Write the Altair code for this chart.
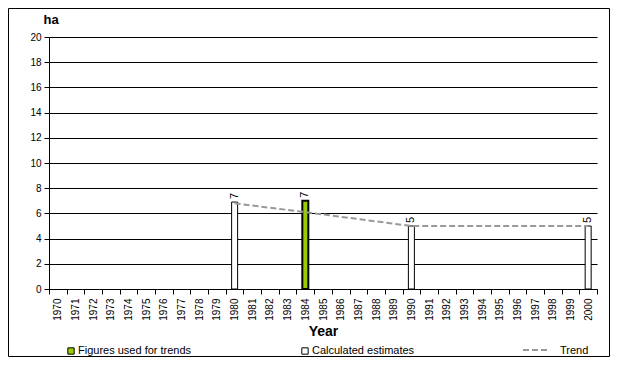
import altair as alt
import pandas as pd

years = [str(y) for y in range(1970, 2001)]
bar_years = ["1980", "1984", "1990", "2000"]
bar_values = [6.9, 7.0, 5.0, 5.0]
bar_kind = ["Calculated estimates", "Figures used for trends", "Calculated estimates", "Calculated estimates"]
bar_labels = ["7", "7", "5", "5"]
trend_years = ["1980", "1984", "1990", "2000"]
trend_values = [6.8, 6.1, 5.0, 5.0]
y_ticks = list(range(0, 21, 2))

W, H = 548, 252
FONT = "Liberation Sans"

bars_df = pd.DataFrame({"year": bar_years, "value": bar_values, "kind": bar_kind, "label": bar_labels})
trend_df = pd.DataFrame({"year": trend_years, "value": trend_values})

xscale = alt.Scale(domain=years, paddingInner=0, paddingOuter=0)
yscale = alt.Scale(domain=[0, 20], nice=False)

x_axis = alt.Axis(title="Year", labelAngle=270, labelAlign="right", labelBaseline="middle",
                  labelFontSize=10, labelFont=FONT, labelColor="black", labelPadding=4,
                  tickBand="extent", tickColor="black", tickSize=5, domainColor="black",
                  titleFont=FONT, titleFontSize=14, titleFontWeight="bold", titleColor="black",
                  titlePadding=4, grid=False)
y_axis = alt.Axis(title="ha", titleAngle=0, titleAlign="left", titleX=-6, titleY=-14,
                  titleBaseline="alphabetic",
                  titleFont=FONT, titleFontSize=13, titleFontWeight="bold", titleColor="black",
                  values=y_ticks, labelFontSize=10, labelFont=FONT, labelOverlap=False,
                  labelColor="black", labelPadding=3,
                  tickColor="black", tickSize=5, domainColor="black",
                  grid=True, gridColor="black", gridOpacity=1, gridWidth=1)

x_enc = alt.X("year:N", scale=xscale, sort=years, axis=x_axis)
y_enc = alt.Y("value:Q", scale=yscale, axis=y_axis)

color_scale = alt.Scale(domain=["Figures used for trends", "Calculated estimates"], range=["#99CC00", "#FFFFFF"])
stroke_scale = alt.Scale(domain=["Figures used for trends", "Calculated estimates"], range=[2, 1])

bars = alt.Chart(bars_df).mark_bar(size=6, stroke="black").encode(
    x=x_enc, y=y_enc, color=alt.Color("kind:N", scale=color_scale, legend=None),
    strokeWidth=alt.StrokeWidth("kind:N", scale=stroke_scale, legend=None))

labels = alt.Chart(bars_df).mark_text(angle=270, align="left", baseline="middle", dx=3,
                                      font=FONT, fontSize=11, color="black").encode(
    x=x_enc, y=y_enc, text="label:N")

trend = alt.Chart(trend_df).mark_line(color="#999999", strokeWidth=2, strokeDash=[6, 3]).encode(
    x=x_enc, y=y_enc)

# manual legend
leg_sq = pd.DataFrame({"kind": ["Figures used for trends", "Calculated estimates"], "px": [22, 256]})
legend_squares = alt.Chart(leg_sq).mark_square(size=40, stroke="black", strokeWidth=1, opacity=1).encode(
    x=alt.X("px:Q", scale=None), y=alt.value(H + 62),
    color=alt.Color("kind:N", scale=color_scale, legend=None))
legend_text = alt.Chart(pd.DataFrame({"t": ["Figures used for trends", "Calculated estimates", "Trend"],
                                      "px": [29, 263, 511]})).mark_text(
    align="left", baseline="middle", font=FONT, fontSize=11, color="black").encode(
    x=alt.X("px:Q", scale=None), y=alt.value(H + 62), text="t:N")
legend_line = alt.Chart(pd.DataFrame({"a": [474], "b": [499]})).mark_rule(
    color="#999999", strokeWidth=2, strokeDash=[6, 3]).encode(
    x=alt.X("a:Q", scale=None), x2="b:Q", y=alt.value(H + 61))

border = alt.Chart(pd.DataFrame({"a": [0]})).mark_rect(
    fill=None, stroke="black", strokeWidth=1, clip=False).encode(
    x=alt.value(-40.5), x2=alt.value(W + 12.5), y=alt.value(-28.5), y2=alt.value(H + 67.5))

chart = alt.layer(border, bars, trend, labels, legend_squares, legend_line, legend_text).properties(
    width=W, height=H,
    padding={"left": 41, "top": 29, "right": 13, "bottom": 68},
    autosize=alt.AutoSizeParams(type="none"),
    background="white",
).configure_view(stroke=None)

chart.save("out.html", embed_options={"renderer": "svg", "actions": False})
